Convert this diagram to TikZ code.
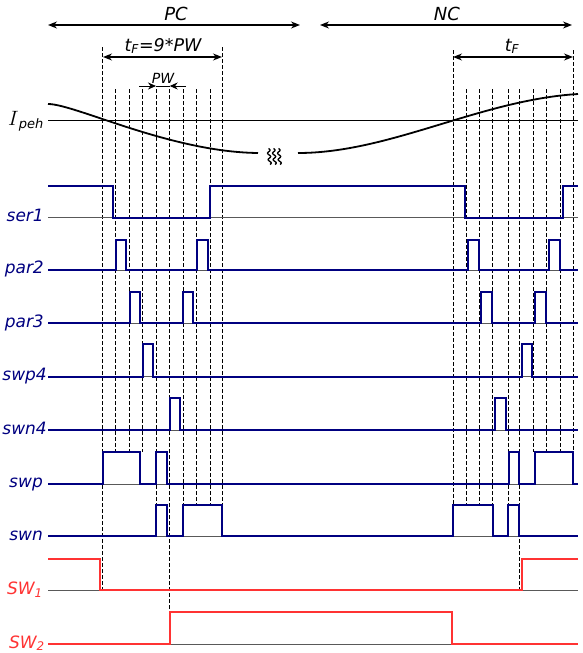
\documentclass[tikz,border=0pt]{standalone}
\usepackage{fontspec}
\setmainfont{DejaVu Sans}
\usetikzlibrary{arrows.meta,positioning,calc}

\definecolor{sigblue}{RGB}{0,0,128}
\definecolor{sigred}{RGB}{255,51,51}

\tikzset{
  sigline/.style={sigblue, line width=2pt},
  swline/.style={sigred, line width=2pt},
  zeroline/.style={black!65, line width=0.8pt},
  guide/.style={black, line width=0.7pt, dash pattern=on 3.5pt off 2.5pt},
  spanarrow/.style={>={Stealth[length=9pt,width=7pt]}, <->, line width=1.3pt},
  pwarrow/.style={>={Stealth[length=8pt,width=7pt]}, ->, line width=1pt},
  siglabel/.style={anchor=base east, inner sep=0pt, text=sigblue, font=\fontsize{17}{17}\selectfont\itshape},
  swlabel/.style={siglabel, text=sigred},
  toplabel/.style={anchor=base, inner sep=0pt, font=\fontsize{18}{18}\selectfont\itshape},
}

\begin{document}
\begin{tikzpicture}[x=1pt,y=-1pt]
\useasboundingbox (0,0) rectangle (583,653);

% Phases
\draw[spanarrow] (48,25) -- (300,25);
\node[toplabel] (pc) at (176,20) {PC};
\draw[spanarrow] (320,25) -- (572,25);
\node[toplabel] (nc) at (447,20) {NC};

% Firing time and pulse width
\draw[spanarrow] (103,57) -- (222,57);
\node[toplabel, font=\fontsize{17.5}{17.5}\selectfont\itshape] (tf1) at (163,51) {t\textsubscript{F}=9*PW};
\draw[spanarrow] (453,57) -- (573,57);
\node[toplabel, font=\fontsize{17.5}{17.5}\selectfont\itshape] (tf2) at (512,51) {t\textsubscript{F}};
\draw[line width=1pt] (156,86) -- (169.7,86);
\draw[pwarrow] (139,86) -- (156,86);
\draw[pwarrow] (186,86) -- (169.7,86);
\node[toplabel, font=\fontsize{14}{14}\selectfont\itshape] (pw) at (163,83) {PW};

% Dashed guides, PC side
\foreach \x/\ya/\yb in {102.7/47/590, 115.7/89/452, 129/89/452, 142.7/89/452, 156/89/505,
                        169.7/89/612, 183/89/505, 196.7/89/505, 210.3/89/505, 222/47/505}
  \draw[guide] (\x,\ya) -- (\x,\yb);
% Dashed guides, NC side
\foreach \x/\ya/\yb in {453/50/505, 466/89/505, 479.3/89/505, 492.7/89/505, 508.7/89/505,
                        519.7/89/590, 533.3/89/452, 546.7/89/452, 560.3/89/452, 573.3/50/452}
  \draw[guide] (\x,\ya) -- (\x,\yb);

% Current
\draw[black, line width=0.8pt] (48,120.7) -- (578,120.7);
\draw[line width=1.8pt] (48,104) .. controls (75,104) and (170,152) .. (258,153);
\draw[line width=1.8pt] (298,153) .. controls (390,153) and (480,100) .. (578,94);
% break mark
\foreach \dx in {268.5,273.5,278.5}
  \draw[line width=1.3pt] plot[variable=\t, domain=0:1, samples=40, smooth]
    ({\dx + 1.4*sin(2.5*360*\t) + 1.5*\t}, {148.5 + 16*\t});
\node[anchor=base west, inner sep=0pt] (ipeh) at (8,125)
  {\fontsize{20}{20}\selectfont$I$\raisebox{-3pt}{\fontsize{13}{13}\selectfont\itshape peh}};

% Zero lines
\foreach \y in {217.7, 270, 323.3, 376.7, 430, 484, 536, 590, 644}
  \draw[zeroline] (48,\y) -- (578,\y);

% Gate signals
\draw[sigline] (48,186) -- (113.3,186) -- (113.3,217.7) -- (210.3,217.7) -- (210.3,186)
  -- (464.7,186) -- (464.7,217.7) -- (562.7,217.7) -- (562.7,186) -- (578,186);
\draw[sigline] (48,270) -- (115.7,270) |- (126,240) -- (126,270) -- (196.7,270) |- (207.7,240)
  -- (207.7,270) -- (467.7,270) |- (478.7,240) -- (478.7,270) -- (549.3,270) |- (560,240)
  -- (560,270) -- (578,270);
\draw[sigline] (48,323.3) -- (129.7,323.3) |- (140,291.7) -- (140,323.3) -- (183.3,323.3) |- (193.3,291.7)
  -- (193.3,323.3) -- (481.3,323.3) |- (492.3,291.7) -- (492.3,323.3) -- (535.3,323.3) |- (546.3,291.7)
  -- (546.3,323.3) -- (578,323.3);
\draw[sigline] (48,376.7) -- (142.7,376.7) |- (153.3,344.3) -- (153.3,376.7)
  -- (521.7,376.7) |- (532.3,344.3) -- (532.3,376.7) -- (578,376.7);
\draw[sigline] (48,430) -- (169.7,430) |- (180,397.7) -- (180,430)
  -- (495,430) |- (506,397.7) -- (506,430) -- (578,430);
\draw[sigline] (48,484) -- (102.7,484) |- (140,451.7) -- (140,484) -- (156,484) |- (166.7,451.7)
  -- (166.7,484) -- (509,484) |- (519.3,451.7) -- (519.3,484) -- (535,484) |- (573,451.7)
  -- (573,484) -- (578,484);
\draw[sigline] (48,536) -- (156,536) |- (166.7,505) -- (166.7,536) -- (182.7,536) |- (222,505)
  -- (222,536) -- (453.3,536) |- (492.7,505) -- (492.7,536) -- (508.3,536) |- (519,505)
  -- (519,536) -- (578,536);

% Switches
\draw[swline] (48,559) -- (100,559) -- (100,590) -- (522,590) -- (522,559) -- (578,559);
\draw[swline] (48,644) -- (169.7,644) -- (169.7,611.7) -- (452,611.7) -- (452,644) -- (578,644);

% Labels
\node[siglabel] (ser1) at (44,221.5) {ser1};
\node[siglabel] (par2) at (44,273.5) {par2};
\node[siglabel] (par3) at (44,327) {par3};
\node[siglabel] (swp4) at (47,380.5) {swp4};
\node[siglabel] (swn4) at (47,434) {swn4};
\node[siglabel] (swp) at (43,487.5) {swp};
\node[siglabel] (swn) at (43,540) {swn};
\node[swlabel] (sw1) at (43,594.5) {SW\textsubscript{1}};
\node[swlabel] (sw2) at (45,648) {SW\textsubscript{2}};

\end{tikzpicture}
\end{document}
